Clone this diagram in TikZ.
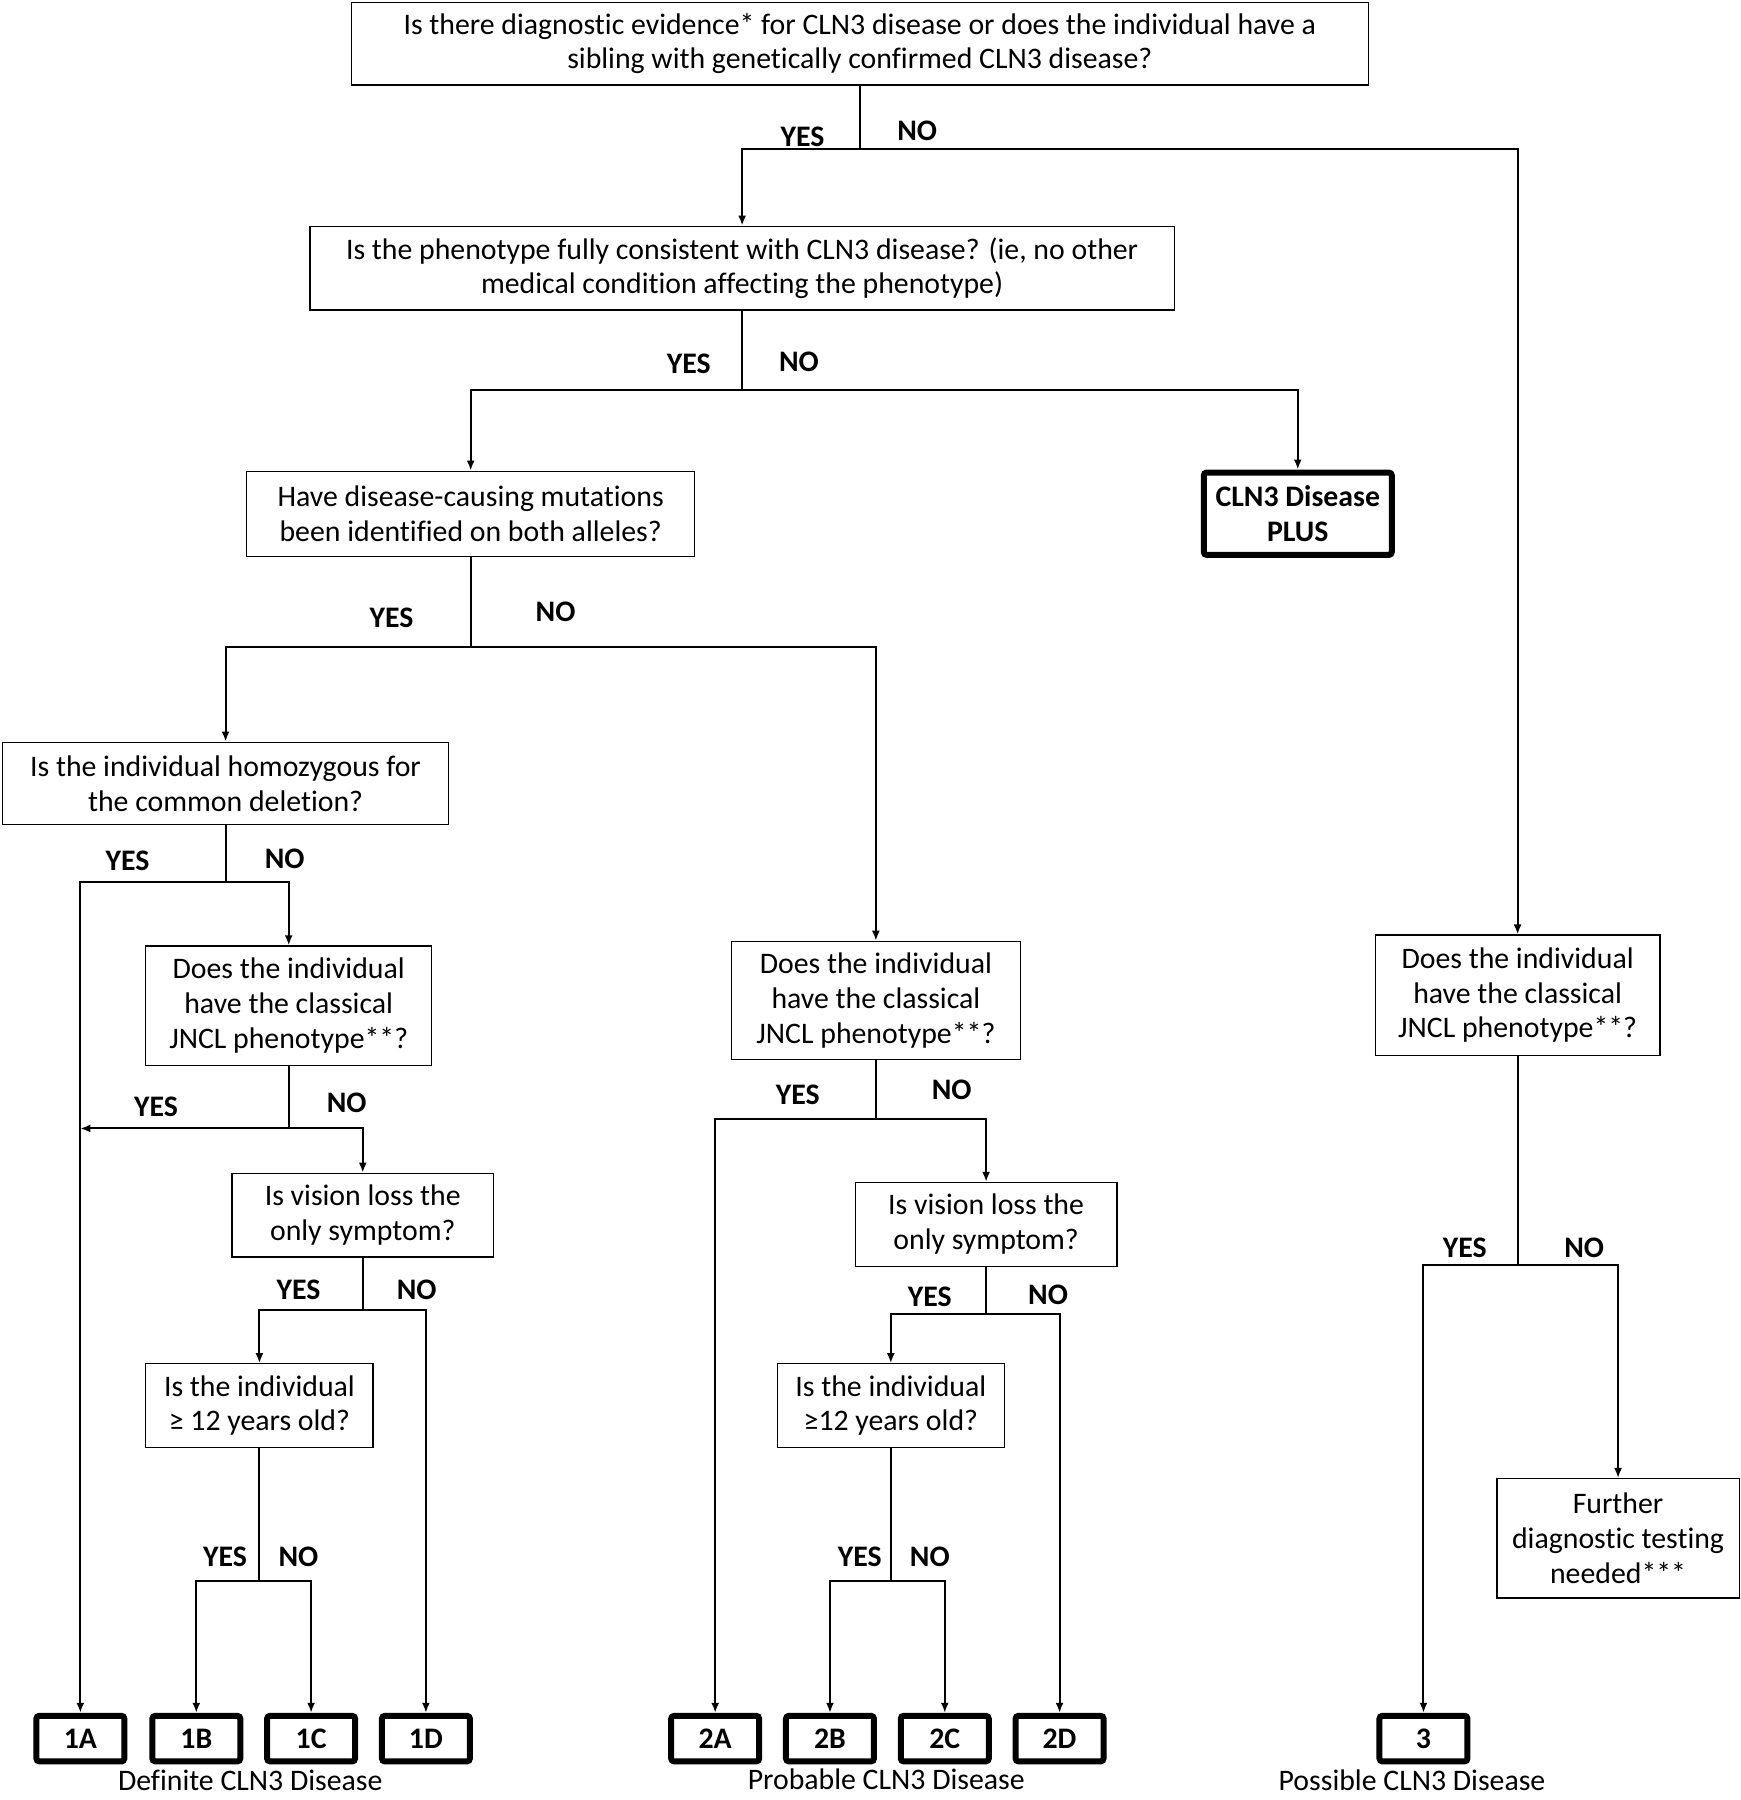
\documentclass[tikz,border=0pt]{standalone}
\usepackage{fontspec}
\setmainfont{Carlito}[Ligatures=NoCommon]
\usetikzlibrary{arrows.meta}

\begin{document}
\begin{tikzpicture}[x=0.5739pt, y=-0.5739pt,
    box/.style={rectangle, draw, line width=0.6pt, inner sep=0pt, align=center, font=\fontsize{14.9}{17.3}\selectfont},
    endbox/.style={rectangle, draw, line width=3pt, rounded corners=1.5pt, inner sep=0pt, align=center, font=\fontsize{14.9}{17.3}\selectfont\bfseries},
    catbox/.style={endbox, minimum width=44pt, minimum height=22.8pt},
    ans/.style={font=\fontsize{14.9}{17.3}\selectfont\bfseries},
    grp/.style={font=\fontsize{14.9}{17.3}\selectfont, anchor=base},
    line/.style={line width=1pt},
    arr/.style={line, -{Latex[length=5pt, width=4pt]}}]
    \useasboundingbox (0,0) rectangle (1516,1568);

    % questions
    \node (q1) at (749, 38) [box, minimum width=508.5pt, minimum height=41.3pt] {Is there diagnostic evidence* for CLN3 disease or does the individual have a\\ sibling with genetically confirmed CLN3 disease?};
    \node (q2) at (646.5, 233.5) [box, minimum width=432.1pt, minimum height=41.9pt] {Is the phenotype fully consistent with CLN3 disease? (ie, no other\\ medical condition affecting the phenotype)};
    \node (q3) at (410, 447.5) [box, minimum width=223.8pt, minimum height=42.5pt] {Have disease-causing mutations\\ been identified on both alleles?};
    \node (plus) at (1130.5, 447.5) [endbox, minimum width=94pt, minimum height=41.2pt] {CLN3 Disease\\ PLUS};
    \node (q4) at (196.5, 682.5) [box, minimum width=223.2pt, minimum height=41.3pt] {Is the individual homozygous for\\ the common deletion?};
    \node (q5) at (251.5, 876) [box, minimum width=142.9pt, minimum height=59.7pt] {Does the individual\\ have the classical\\ JNCL phenotype**?};
    \node (q6) at (316, 1058.5) [box, minimum width=130.8pt, minimum height=41.9pt] {Is vision loss the\\ only symptom?};
    \node (q7) at (226, 1224.5) [box, minimum width=113.6pt, minimum height=41.9pt] {Is the individual\\ ≥ 12 years old?};
    \node (q8) at (763, 871.5) [box, minimum width=144.6pt, minimum height=59.1pt] {Does the individual\\ have the classical\\ JNCL phenotype**?};
    \node (q9) at (859, 1066.5) [box, minimum width=130.8pt, minimum height=41.9pt] {Is vision loss the\\ only symptom?};
    \node (q10) at (776, 1224.5) [box, minimum width=113.6pt, minimum height=41.9pt] {Is the individual\\ ≥12 years old?};
    \node (q11) at (1322, 867) [box, minimum width=142.3pt, minimum height=60.3pt] {Does the individual\\ have the classical\\ JNCL phenotype**?};
    \node (further) at (1409.5, 1340) [box, minimum width=121.1pt, minimum height=59.7pt] {Further\\ diagnostic testing\\ needed***};

    % categories
    \node (b1A) at (70, 1514.5) [catbox] {1A};
    \node (b1B) at (171, 1514.5) [catbox] {1B};
    \node (b1C) at (271, 1514.5) [catbox] {1C};
    \node (b1D) at (371, 1514.5) [catbox] {1D};
    \node (b2A) at (623, 1514.5) [catbox] {2A};
    \node (b2B) at (723, 1514.5) [catbox] {2B};
    \node (b2C) at (823, 1514.5) [catbox] {2C};
    \node (b2D) at (923, 1514.5) [catbox] {2D};
    \node (b3) at (1240, 1514.5) [catbox] {3};
    \node (definite) at (218, 1560) [grp] {Definite CLN3 Disease};
    \node (probable) at (772, 1559) [grp] {Probable CLN3 Disease};
    \node (possible) at (1230, 1560) [grp] {Possible CLN3 Disease};

    % branch points
    \coordinate (s1) at (749, 130);
    \coordinate (s2) at (646.5, 340);
    \coordinate (s3) at (410, 564);
    \coordinate (s4) at (196.5, 768);
    \coordinate (s5) at (251.5, 983);
    \coordinate (s6) at (316, 1141);
    \coordinate (s7) at (226, 1377);
    \coordinate (s8) at (763, 975);
    \coordinate (s9) at (859, 1145);
    \coordinate (s10) at (776, 1377);
    \coordinate (s11) at (1322, 1102);
    \coordinate (j1) at (70, 983);

    % answers
    \node (y1) at (699, 119) [ans] {YES};
    \node (n1) at (799, 114) [ans] {NO};
    \node (y2) at (600, 317) [ans] {YES};
    \node (n2) at (696, 315) [ans] {NO};
    \node (y3) at (341, 538) [ans] {YES};
    \node (n3) at (484, 533) [ans] {NO};
    \node (y4) at (111, 750) [ans] {YES};
    \node (n4) at (248, 748) [ans] {NO};
    \node (y5) at (136, 964) [ans] {YES};
    \node (n5) at (302, 961) [ans] {NO};
    \node (y6) at (260, 1124) [ans] {YES};
    \node (n6) at (363, 1124) [ans] {NO};
    \node (y7) at (196, 1356) [ans] {YES};
    \node (n7) at (260, 1356) [ans] {NO};
    \node (y8) at (695, 954) [ans] {YES};
    \node (n8) at (829, 949) [ans] {NO};
    \node (y9) at (810, 1130) [ans] {YES};
    \node (n9) at (913, 1128) [ans] {NO};
    \node (y10) at (749, 1356) [ans] {YES};
    \node (n10) at (810, 1356) [ans] {NO};
    \node (y11) at (1276, 1087) [ans] {YES};
    \node (n11) at (1380, 1087) [ans] {NO};

    % connectors
    \draw[line] (q1) -- (s1);
    \draw[arr] (s1) -| (q2);
    \draw[arr] (s1) -| (q11);
    \draw[line] (q2) -- (s2);
    \draw[arr] (s2) -| (q3);
    \draw[arr] (s2) -| (plus);
    \draw[line] (q3) -- (s3);
    \draw[arr] (s3) -| (q4);
    \draw[arr] (s3) -| (q8);
    \draw[line] (q4) -- (s4);
    \draw[arr] (s4) -| (b1A);
    \draw[arr] (s4) -| (q5);
    \draw[line] (q5) -- (s5);
    \draw[arr] (s5) -- (j1);
    \draw[arr] (s5) -| (q6);
    \draw[line] (q6) -- (s6);
    \draw[arr] (s6) -| (q7);
    \draw[arr] (s6) -| (b1D);
    \draw[line] (q7) -- (s7);
    \draw[arr] (s7) -| (b1B);
    \draw[arr] (s7) -| (b1C);
    \draw[line] (q8) -- (s8);
    \draw[arr] (s8) -| (b2A);
    \draw[arr] (s8) -| (q9);
    \draw[line] (q9) -- (s9);
    \draw[arr] (s9) -| (q10);
    \draw[arr] (s9) -| (b2D);
    \draw[line] (q10) -- (s10);
    \draw[arr] (s10) -| (b2B);
    \draw[arr] (s10) -| (b2C);
    \draw[line] (q11) -- (s11);
    \draw[arr] (s11) -| (b3);
    \draw[arr] (s11) -| (further);

\end{tikzpicture}
\end{document}
